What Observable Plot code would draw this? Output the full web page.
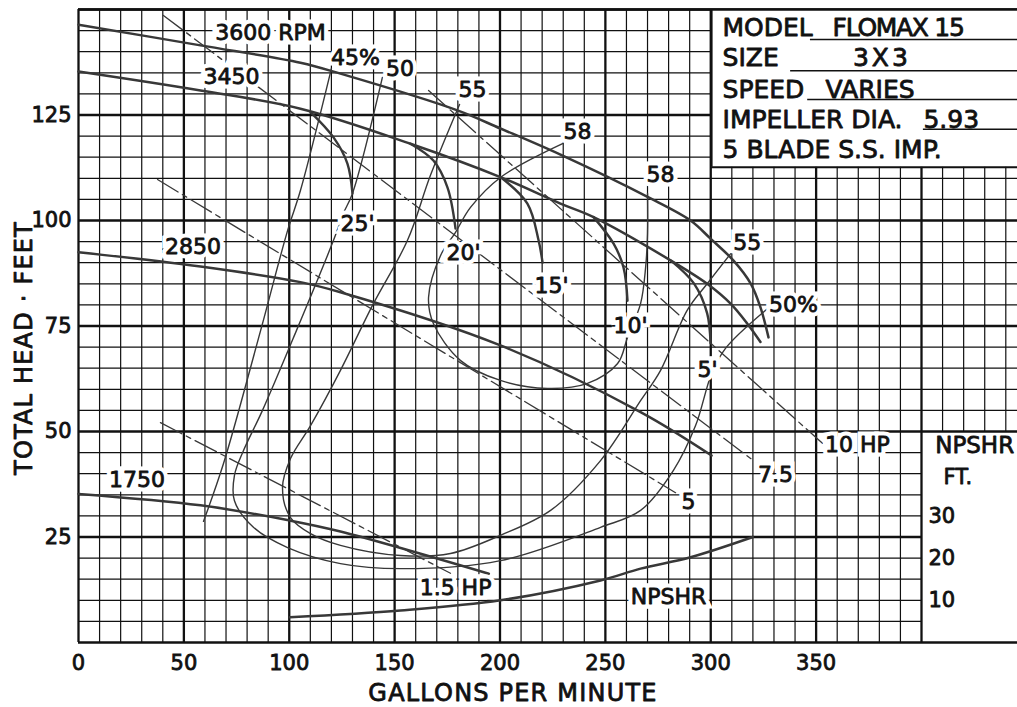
<!DOCTYPE html>
<html><head><meta charset="utf-8">
<script src="https://cdn.jsdelivr.net/npm/d3@7"></script>
<script src="https://cdn.jsdelivr.net/npm/@observablehq/plot@0.6"></script>
<style>
body{margin:0;background:#fff} svg{display:block}
g[aria-label="x-axis tick label"] text, g[aria-label="y-axis tick label"] text{stroke:#111;stroke-width:0.8px}
</style>
</head><body><div id="chart"></div>
<script>
// ---- axis ticks ----
const xTicks = [0, 50, 100, 150, 200, 250, 300, 350];
const yTicks = [25, 50, 75, 100, 125];
const npshrTicks = [10, 20, 30];

// ---- head-capacity curves [GPM, ft] ----
const rpm3600 = [[0,146.4],[57.9,141.5],[105.3,137.4],[124.3,134.8],[179.8,126.1],[200.2,121.8],[228.7,115.6],[270,105.6],[290.4,100],[299.9,95.7],[310.8,90.5],[318.9,85.1],[323.6,79.4],[327.4,72.3]];
const rpm3450 = [[0,135.3],[57.9,130.8],[105.3,126.5],[157.5,118.2],[200.2,110.3],[228.7,104],[244.4,100.8],[281.1,90.5],[298.3,85],[309.4,80.3],[317.3,75.6],[323.6,71.2]];
const rpm2850 = [[0,92.5],[57.9,89.1],[105.3,85.4],[124.3,83],[200.2,70.4],[266.7,54.6],[300.4,44.3]];
const rpm1750 = [[0,35.2],[57.9,32.5],[100.3,28.9],[124.3,26.3],[194.7,16.3]];
const npshr = [[100.3,6],[152.8,7.6],[200.2,10],[247.7,14.7],[266.7,17.5],[290.4,20.2],[320,25]];

// ---- efficiency contours ----
const eff45 = [[120,136],[105.3,107.1],[99.2,97.6],[86.4,73.9],[68.8,42.4],[59.3,28.7]];
const eff50 = [[144.2,133.9],[130,106.4],[125.7,101.7],[121,95.3],[103.4,73.9],[87.3,55],[78.3,45.5],[74,39.6],[74,33.6],[83,27.3],[99.2,22.5],[124.3,18.7],[152.8,17.5],[200.2,19.4],[247.7,27.3],[266.7,31.3],[282.3,40.8],[292.8,51.4],[300.4,63.7],[307,69.7],[326.9,79.1]];
const eff55 = [[180.8,127.5],[167,110.7],[156.1,95.3],[139.5,79.9],[124.3,64.5],[110.1,51.4],[100.6,43.6],[96.8,36.7],[100.6,29.6],[110.1,25.8],[124.3,23],[152.8,20.6],[176.5,21.1],[200.2,25.4],[224,31.3],[247.7,43.1],[266.7,57.3],[276.2,64.5],[288.8,78.7],[298.3,85],[309.4,92.1]];
const eff58 = [[229.7,118.2],[200.2,110.2],[186,103.1],[178.9,97.2],[171.8,91.7],[166.1,81.8],[168.4,75.6],[181.3,66.8],[200.2,62.1],[222.5,60.2],[241.5,61.4],[255.8,66.1],[260.5,72.3],[266.7,80.3],[269.1,88.9],[270,96.9],[270,106.4]];

// ---- suction lift arcs ----
const lift25 = [[110.1,125.7],[121,119.7],[127.6,113.5],[130,106.4]];
const lift20 = [[157.5,118.2],[168.4,114.2],[175.1,107.8],[178.9,98.1]];
const lift15 = [[200.2,110.3],[213,104],[218.3,95.3],[220.2,90]];
const lift10 = [[244.4,100.8],[253.9,94.5],[258.6,88.9],[260.5,81]];
const lift5  = [[281.1,90.5],[292,85.1],[298.3,78],[299.9,70.9]];

// ---- horsepower lines ----
const hp10  = [[166.1,130.8],[353,47.2]];
const hp75  = [[40.3,148.6],[320.3,43.1]];
const hp5   = [[37.5,109.7],[283.3,35.5]];
const hp15  = [[38.9,52.1],[176.5,16.4]];

// ---- curve labels [text, GPM, ft] ----
const curveLabels = [
  ["3600 RPM",91.1,144.5],["3450",72.6,134.1],["2850",54.3,93.8],["1750",27.8,38.4],
  ["45%",131.4,138.4],["50",152.6,136.0],["55",187.0,131.0],["58",236.8,121.1],
  ["58",276.2,110.9],["55",317.3,94.7],["50%",339.3,80.1],
  ["25'",132.4,99.3],["20'",182.7,92.2],["15'",224.4,84.6],["10'",261.9,74.9],["5'",298.5,64.6],
  ["10 HP",369.6,46.7],["7.5",330.7,39.8],["5",289.4,33.2],["1.5 HP",178.9,13.0],["NPSHR",280.0,10.9]
];

// ---- info box ----
const boxRows = [
  ["MODEL",305.6,145.5],["FLOMAX 15",357.8,145.5],
  ["SIZE",305.6,138.5],["3 X 3",367.5,138.5],
  ["SPEED",305.6,131.0],["VARIES",354.5,131.0],
  ["IMPELLER DIA.",305.6,123.7],["5.93",400.9,123.7],
  ["5 BLADE S.S. IMP.",305.6,116.8]
];
const boxUnderlines = [[347.3,142.9],[337.9,135.5],[346.0,128.7],[400.9,121.6]];
const boxLeft = 300.4, boxBottom = 112.6, rightEdge = 445.6;

const pts = (a, name) => a.map(([g,h]) => ({g, h, name}));

const gridV = d3.range(0, 441, 10).map(g => ({g, major: g % 50 === 0, y1: g > 400 ? 50 : 0, y2: 150}));
const gridH = d3.range(0, 151, 5).map(h => ({h, major: h % 25 === 0, x1: 0, x2: (h >= 50 || h === 0) ? rightEdge : 400}));

const INK = "#111";
const CURVE = "#383838";
const BOLD = {stroke: INK, strokeWidth: 0.8};

const headSeries = [rpm3600, rpm3450, rpm2850, rpm1750, npshr].flatMap((a,i) => pts(a, "h"+i));
const effSeries = [eff45, eff50, eff55, eff58].flatMap((a,i) => pts(a, "e"+i));
const liftSeries = [lift25, lift20, lift15, lift10, lift5].flatMap((a,i) => pts(a, "l"+i));
const hpSeries = [hp10, hp75, hp5, hp15].flatMap((a,i) => pts(a, "p"+i));

const labelOpts = {x: d => d[1], y: d => d[2], text: d => d[0], fontSize: 22};

const chart = Plot.plot({
  width: 1017, height: 707,
  marginLeft: 78, marginRight: 96, marginTop: 9, marginBottom: 65,
  style: {fontFamily: "DejaVu Sans", background: "white", color: INK},
  x: {domain: [0, 400]},
  y: {domain: [0, 150]},
  marks: [
    Plot.ruleX(gridV.filter(d => !d.major), {x: "g", y1: "y1", y2: "y2", stroke: INK, strokeWidth: 1.2}),
    Plot.ruleY(gridH.filter(d => !d.major), {y: "h", x1: "x1", x2: "x2", stroke: INK, strokeWidth: 1.2}),
    Plot.ruleX(gridV.filter(d => d.major), {x: "g", y1: "y1", y2: "y2", stroke: INK, strokeWidth: 2.3}),
    Plot.ruleY(gridH.filter(d => d.major), {y: "h", x1: "x1", x2: "x2", stroke: INK, strokeWidth: 2.3}),
    // info box
    Plot.rect([{x1: boxLeft, x2: rightEdge + 2, y1: boxBottom, y2: 150}], {x1: "x1", x2: "x2", y1: "y1", y2: "y2", fill: "white"}),
    Plot.ruleX([boxLeft], {y1: boxBottom, y2: 150, stroke: INK, strokeWidth: 2}),
    Plot.ruleY([boxBottom], {x1: boxLeft, x2: rightEdge, stroke: INK, strokeWidth: 2}),
    Plot.ruleY([150], {x1: 0, x2: rightEdge, stroke: INK, strokeWidth: 2.3}),
    Plot.ruleY(boxUnderlines, {y: d => d[1], x1: d => d[0], x2: rightEdge, stroke: INK, strokeWidth: 1.5}),
    Plot.text(boxRows, {x: d => d[1], y: d => d[2], text: d => d[0], textAnchor: "start", fontSize: 25, fill: INK, ...BOLD}),
    // curves
    Plot.line(hpSeries, {x: "g", y: "h", z: "name", stroke: CURVE, strokeWidth: 1.3, strokeDasharray: "24,5,5,5"}),
    Plot.line(effSeries, {x: "g", y: "h", z: "name", stroke: CURVE, strokeWidth: 1.4, curve: "catmull-rom"}),
    Plot.line(liftSeries, {x: "g", y: "h", z: "name", stroke: CURVE, strokeWidth: 2.4, curve: "catmull-rom"}),
    Plot.line(headSeries, {x: "g", y: "h", z: "name", stroke: CURVE, strokeWidth: 2.5, curve: "catmull-rom"}),
    // labels: white knock-out, then ink
    Plot.text(curveLabels, {...labelOpts, fill: "white", stroke: "white", strokeWidth: 9, strokeLinejoin: "miter"}),
    Plot.text(curveLabels, {...labelOpts, fill: INK, ...BOLD}),
    // axes
    Plot.axisX({ticks: xTicks, tickSize: 0, tickPadding: 13, fontSize: 21, label: null}),
    Plot.axisY({ticks: yTicks, tickSize: 0, tickPadding: 7, fontSize: 21, label: null}),
    // NPSHR right scale
    Plot.text(npshrTicks, {x: 403.3, y: d => d, text: d => String(d), textAnchor: "start", fontSize: 21, fill: INK, ...BOLD}),
    Plot.text(["NPSHR"], {x: 406.5, y: 46.7, textAnchor: "start", fontSize: 23, fill: INK, ...BOLD}),
    Plot.text(["FT."], {x: 410.4, y: 39.1, textAnchor: "start", fontSize: 21, fill: INK, ...BOLD}),
    // titles
    Plot.text(["GALLONS PER MINUTE"], {frameAnchor: "bottom", textAnchor: "middle", lineAnchor: "middle", dy: 51, dx: 13, fontSize: 24, fill: INK, ...BOLD}),
    Plot.text(["TOTAL HEAD · FEET"], {frameAnchor: "left", textAnchor: "middle", lineAnchor: "middle", rotate: -90, dx: -54, dy: 22, fontSize: 24, fill: INK, ...BOLD})
  ]
});
const sel = d3.select(chart).selectAll("text");
sel.filter(function() { return this.textContent === "GALLONS PER MINUTE" || this.textContent === "TOTAL HEAD · FEET"; })
  .attr("letter-spacing", "1.2px");
sel.filter(function() { return this.textContent === "FLOMAX 15"; }).attr("letter-spacing", "-1.3px");
sel.filter(function() { return this.textContent === "3 X 3"; }).attr("word-spacing", "-5px");
document.getElementById("chart").append(chart);
</script>
</body></html>
